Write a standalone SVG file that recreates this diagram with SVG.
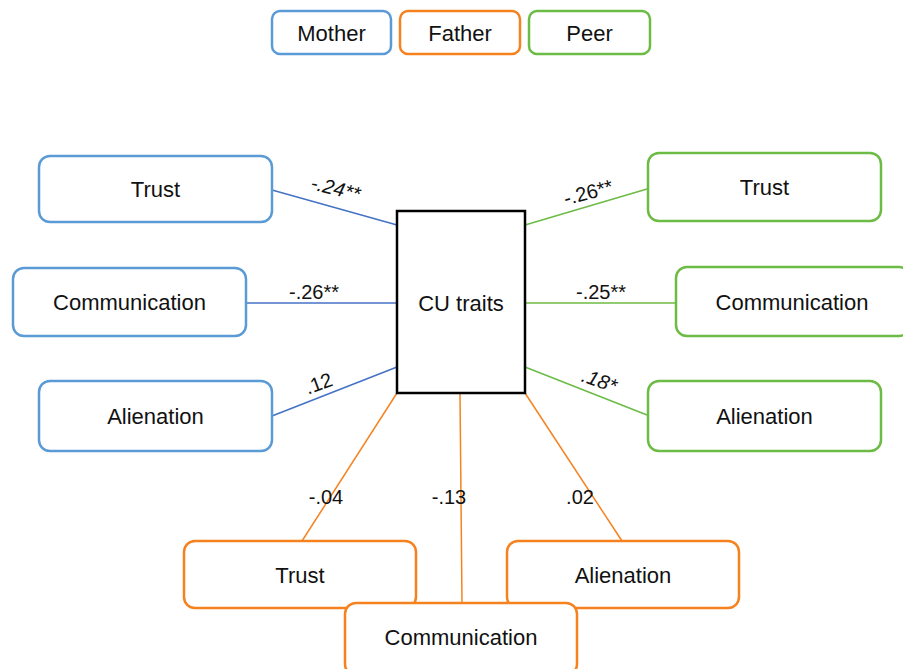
<svg xmlns="http://www.w3.org/2000/svg" width="903" height="669" viewBox="0 0 903 669">
<style>
  .box { fill: #ffffff; stroke-width: 2.5; }
  .m { stroke: #5B9BD5; }
  .f { stroke: #F5821F; }
  .p { stroke: #6CBB45; }
  .t { font-family: "Liberation Sans", Arial, sans-serif; font-size: 22px; fill: #111111; text-anchor: middle; }
  .lb { font-family: "Liberation Sans", Arial, sans-serif; font-size: 20px; fill: #111111; text-anchor: middle; }
  .it { font-style: italic; }
  .cm { stroke: #4472C4; stroke-width: 1.5; fill: none; }
  .cf { stroke: #F5821F; stroke-width: 1.5; fill: none; }
  .cp { stroke: #6CBB45; stroke-width: 1.5; fill: none; }
</style>
<rect width="903" height="669" fill="#ffffff"/>

<g id="legend">
  <g id="legend-mother"><rect class="box m" x="272" y="11" width="119" height="43" rx="8"/><text class="t" x="331.5" y="41">Mother</text></g>
  <g id="legend-father"><rect class="box f" x="400" y="11" width="120" height="43" rx="8"/><text class="t" x="460" y="41">Father</text></g>
  <g id="legend-peer"><rect class="box p" x="529" y="11" width="121" height="43" rx="8"/><text class="t" x="589.5" y="41">Peer</text></g>
</g>

<g id="connectors">
  <line class="cm" x1="272" y1="190" x2="397" y2="225"/>
  <line class="cm" x1="247" y1="303" x2="397" y2="303"/>
  <line class="cm" x1="272" y1="416" x2="397" y2="367"/>
  <line class="cp" x1="525" y1="225" x2="647" y2="189"/>
  <line class="cp" x1="525" y1="303" x2="675" y2="303"/>
  <line class="cp" x1="525" y1="367" x2="647" y2="415"/>
  <line class="cf" x1="397" y1="393" x2="302" y2="541"/>
  <line class="cf" x1="460" y1="393" x2="462" y2="603"/>
  <line class="cf" x1="525" y1="393" x2="622" y2="541"/>
  <text class="lb it" transform="translate(334 195) rotate(14)">-.24**</text>
  <text class="lb" transform="translate(590 199) rotate(-15)">-.26**</text>
  <text class="lb" x="314" y="299">-.26**</text>
  <text class="lb" x="601" y="299">-.25**</text>
  <text class="lb" transform="translate(321 390) rotate(-20)">.12</text>
  <text class="lb it" transform="translate(597 387) rotate(20)">.18*</text>
  <text class="lb" x="326" y="504">-.04</text>
  <text class="lb" x="449" y="504">-.13</text>
  <text class="lb" x="580" y="504">.02</text>
</g>

<g id="cu-traits">
  <rect x="397" y="211" width="128" height="182" fill="#ffffff" stroke="#000000" stroke-width="2.5"/>
  <text class="t" x="461" y="311">CU traits</text>
</g>

<g id="mother-trust"><rect class="box m" x="39" y="156" width="233" height="66" rx="11"/><text class="t" x="155.5" y="197">Trust</text></g>
<g id="mother-communication"><rect class="box m" x="13" y="268" width="233" height="68" rx="11"/><text class="t" x="129.5" y="310">Communication</text></g>
<g id="mother-alienation"><rect class="box m" x="39" y="381" width="233" height="70" rx="11"/><text class="t" x="155.5" y="424">Alienation</text></g>

<g id="peer-trust"><rect class="box p" x="648" y="153" width="233" height="68" rx="11"/><text class="t" x="764.5" y="195">Trust</text></g>
<g id="peer-communication"><rect class="box p" x="676" y="267" width="234" height="69" rx="11"/><text class="t" x="792" y="310">Communication</text></g>
<g id="peer-alienation"><rect class="box p" x="648" y="381" width="233" height="70" rx="11"/><text class="t" x="764.5" y="424">Alienation</text></g>

<g id="father-trust"><rect class="box f" x="184" y="541" width="232" height="67" rx="11"/><text class="t" x="300" y="583">Trust</text></g>
<g id="father-alienation"><rect class="box f" x="507" y="541" width="232" height="67" rx="11"/><text class="t" x="623" y="583">Alienation</text></g>
<g id="father-communication"><rect class="box f" x="345" y="603" width="232" height="72" rx="11"/><text class="t" x="461" y="645">Communication</text></g>
</svg>
